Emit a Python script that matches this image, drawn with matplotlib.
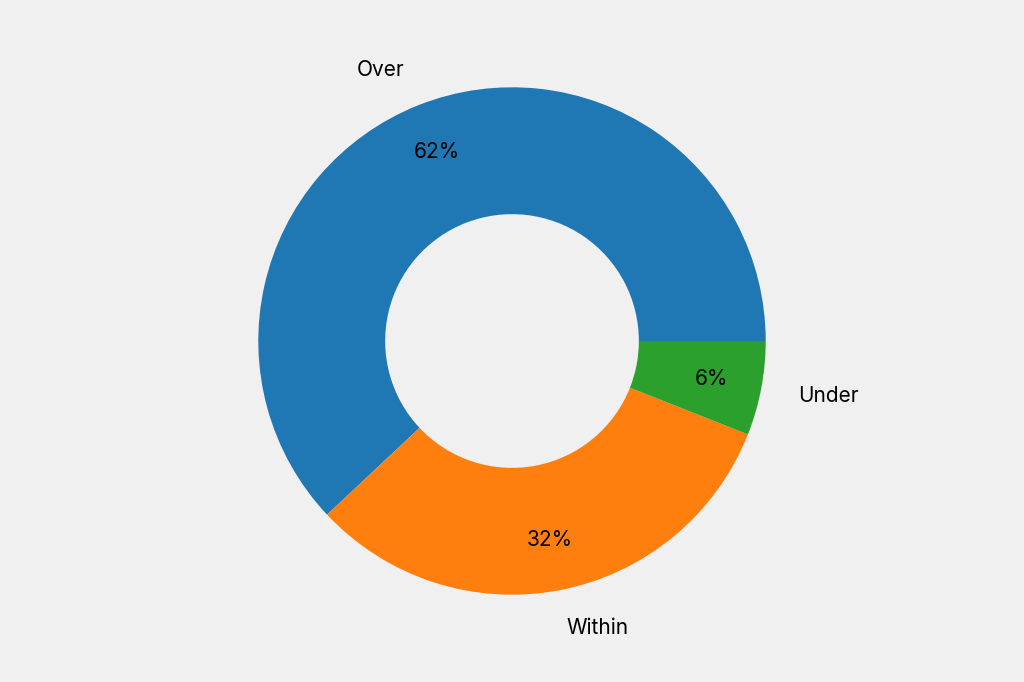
import matplotlib
matplotlib.use("Agg")
import matplotlib.pyplot as plt

labels = ["Over", "Within", "Under"]
values = [62, 32, 6]
colors = ["#1f77b4", "#ff7f0e", "#2ca02c"]

plt.rcParams['font.family'] = ['Inter', 'DejaVu Sans']
fig = plt.figure(figsize=(10.24, 6.82), dpi=100, facecolor="#f0f0f0")
ax = fig.add_axes([0.0, 0.035, 1.0, 0.93])
ax.set_facecolor("#f0f0f0")
ax.pie(values, labels=labels, colors=colors, autopct="%d%%", startangle=0,
       pctdistance=0.8, labeldistance=1.15,
       wedgeprops=dict(width=0.5), textprops=dict(fontsize=15))
ax.set_aspect("equal")
fig.savefig("out.png", dpi=100, facecolor=fig.get_facecolor())
